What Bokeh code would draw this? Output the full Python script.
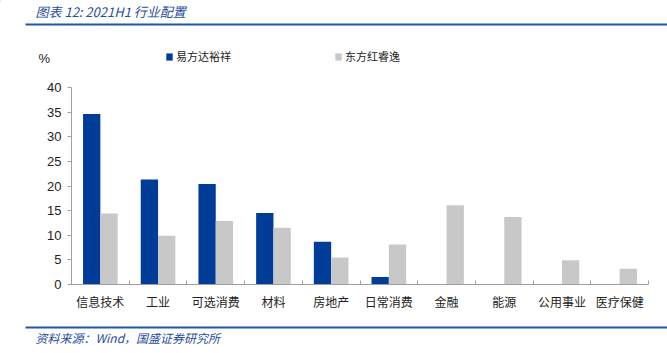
from bokeh.plotting import figure
from bokeh.layouts import column
from bokeh.models import (ColumnDataSource, FixedTicker, Label, BoxAnnotation,
                          Legend, LegendItem, Range1d, CustomJSTickFormatter)
from bokeh.transform import dodge
from bokeh.embed import file_html
from bokeh.resources import INLINE

categories = ["信息技术", "工业", "可选消费", "材料", "房地产", "日常消费", "金融", "能源", "公用事业", "医疗保健"]
yfd = [34.6, 21.3, 20.4, 14.5, 8.7, 1.5, 0, 0, 0, 0]
dfh = [14.4, 9.9, 12.9, 11.5, 5.5, 8.1, 16.1, 13.7, 4.9, 3.2]
series_names = ["易方达裕祥", "东方红睿逸"]
y_ticks = [0, 5, 10, 15, 20, 25, 30, 35, 40]
title_text = "图表 12:  2021H1 行业配置"
source_text = "资料来源：Wind，国盛证券研究所"

BLUE = "#003D98"
GRAY = "#C8C8C8"
TXT_BLUE = "#2A4C9C"
RULE_BLUE = "#1F56A8"
CJK = "Noto Sans CJK SC"
NUM = "Liberation Sans"
W = 667
TOP_H = 79


def blank(h):
    f = figure(width=W, height=h, output_backend="svg", toolbar_location=None,
               x_range=Range1d(0, W), y_range=Range1d(h, 0),
               x_axis_type=None, y_axis_type=None,
               min_border=0, min_border_left=0, min_border_right=0,
               min_border_top=0, min_border_bottom=0)
    f.outline_line_color = None
    f.xgrid.grid_line_color = None
    f.ygrid.grid_line_color = None
    return f


# ---------- header: title, rule, unit, legend ----------
top = blank(TOP_H)
top.add_layout(Label(x=35, y=11, text=title_text, text_font=CJK, text_font_style="italic",
                     text_font_size="13px", text_color=TXT_BLUE, text_baseline="middle"))
top.add_layout(BoxAnnotation(left=25, right=W, top=23, bottom=25,
                             fill_color=RULE_BLUE, fill_alpha=1, line_color=None))
top.add_layout(Label(x=38, y=58, text="%", text_font=NUM, text_font_size="13px",
                     text_color="#222222", text_baseline="middle"))
# legend proxies (kept outside the visible range)
d1 = top.vbar(x=[-1000], top=[1], width=1, fill_color=BLUE, line_color=None)
d2 = top.vbar(x=[-1000], top=[1], width=1, fill_color=GRAY, line_color=None)
legend = Legend(items=[LegendItem(label=series_names[0], renderers=[d1]),
                       LegendItem(label=series_names[1], renderers=[d2])],
                orientation="horizontal", location=(165, TOP_H - 64),
                glyph_width=8, glyph_height=9, label_standoff=3, spacing=103,
                padding=0, margin=0, border_line_color=None, background_fill_alpha=0,
                label_text_font=CJK, label_text_font_size="11px", label_text_color="#222222",
                label_height=12)
top.add_layout(legend, "center")

# ---------- main chart ----------
n = len(categories)
centers = [i + 0.5 for i in range(n)]
src = ColumnDataSource(dict(x=centers, a=yfd, b=dfh))

p = figure(width=W, height=245, output_backend="svg", toolbar_location=None,
           x_range=Range1d(0, n), y_range=Range1d(0, 40),
           min_border_left=71, min_border_right=19, min_border_top=8, min_border_bottom=40)
p.outline_line_color = None
p.xgrid.grid_line_color = None
p.ygrid.grid_line_color = None

p.vbar(x=dodge("x", -0.15, range=p.x_range), top="a", width=0.3, source=src,
       fill_color=BLUE, line_color=None)
p.vbar(x=dodge("x", 0.15, range=p.x_range), top="b", width=0.3, source=src,
       fill_color=GRAY, line_color=None)

xa = p.xaxis[0]
xa.ticker = FixedTicker(ticks=centers, minor_ticks=list(range(n + 1)))
xa.formatter = CustomJSTickFormatter(args=dict(cats=categories),
                                     code="return cats[Math.floor(tick)];")
xa.major_tick_out = 0
xa.major_tick_in = 0
xa.minor_tick_in = 4
xa.minor_tick_out = 0
xa.minor_tick_line_color = "#A0A0A0"
xa.axis_line_color = "#A0A0A0"
xa.major_label_text_font = CJK
xa.major_label_text_font_size = "12px"
xa.major_label_text_color = "#222222"
xa.major_label_standoff = 8

ya = p.yaxis[0]
ya.ticker = FixedTicker(ticks=y_ticks)
ya.minor_tick_line_color = None
ya.major_tick_out = 4
ya.major_tick_in = 0
ya.major_tick_line_color = "#A0A0A0"
ya.axis_line_color = "#A0A0A0"
ya.major_label_text_font = NUM
ya.major_label_text_font_size = "13px"
ya.major_label_text_color = "#222222"
ya.major_label_standoff = 6

# ---------- footer: rule and source ----------
bot = blank(29)
bot.add_layout(BoxAnnotation(left=25, right=W, top=2, bottom=4,
                             fill_color=RULE_BLUE, fill_alpha=1, line_color=None))
bot.add_layout(Label(x=35, y=13, text=source_text, text_font=CJK, text_font_style="italic",
                     text_font_size="12px", text_color=TXT_BLUE, text_baseline="middle"))

layout = column(column(top), p, column(bot), spacing=0)
open("out.html", "w").write(file_html(layout, INLINE))
